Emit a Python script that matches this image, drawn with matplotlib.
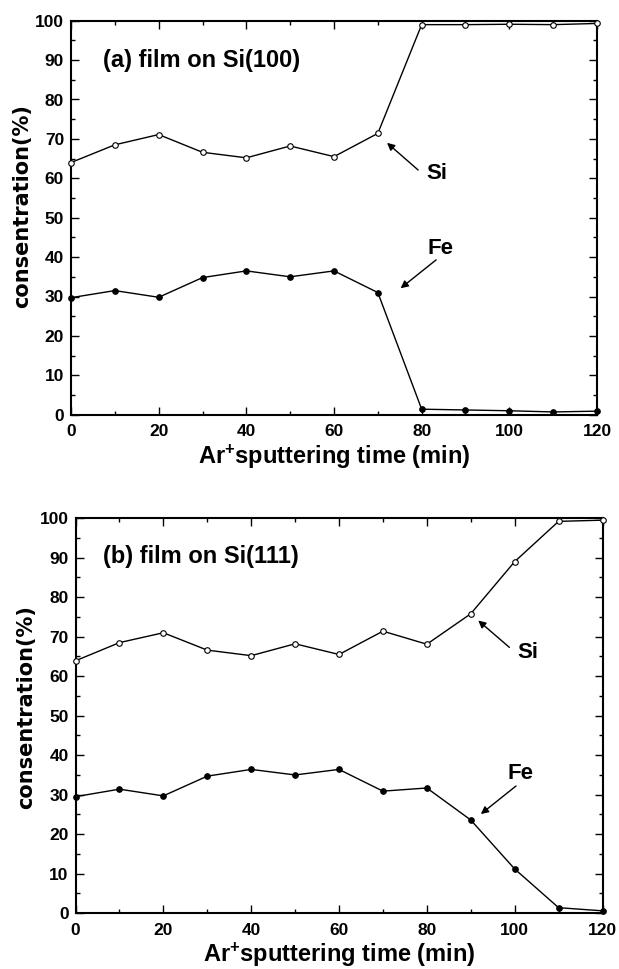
import matplotlib
matplotlib.use("Agg")
import matplotlib.pyplot as plt
from matplotlib.ticker import MultipleLocator

plt.rcParams['font.family'] = ['Liberation Sans', 'DejaVu Sans']
plt.rcParams['font.weight'] = 'bold'
plt.rcParams['mathtext.fontset'] = 'custom'
plt.rcParams['mathtext.rm'] = 'Liberation Sans:bold'
plt.rcParams['mathtext.bf'] = 'Liberation Sans:bold'
plt.rcParams['mathtext.it'] = 'Liberation Sans:bold'

# ---- data ----
time = [0, 10, 20, 30, 40, 50, 60, 70, 80, 90, 100, 110, 120]
si_a = [64.0, 68.5, 71.1, 66.6, 65.2, 68.2, 65.5, 71.4, 99.0, 99.0, 99.1, 99.0, 99.3]
fe_a = [29.7, 31.5, 29.8, 34.8, 36.5, 35.0, 36.5, 31.0, 1.4, 1.2, 1.0, 0.7, 0.9]
si_b = [63.9, 68.5, 71.0, 66.6, 65.2, 68.2, 65.5, 71.4, 68.1, 75.8, 89.0, 99.2, 99.5]
fe_b = [29.5, 31.4, 29.7, 34.7, 36.4, 35.0, 36.4, 30.9, 31.7, 23.6, 11.2, 1.4, 0.6]

panel_titles = ["(a) film on Si(100)", "(b) film on Si(111)"]
xlabel = r"Ar$^{\mathbf{+}}$sputtering time (min)"
ylabel = "consentration(%)"

W, H = 619, 969
fig = plt.figure(figsize=(W / 100, H / 100), dpi=100)

ax_a = fig.add_axes([71 / W, 1 - 414.7 / H, 526 / W, 394 / H])
ax_b = fig.add_axes([75.5 / W, 1 - 913.2 / H, 527 / W, 395 / H])


def style(ax, ylab_y):
    ax.set_xlim(0, 120)
    ax.set_ylim(0, 100)
    ax.xaxis.set_major_locator(MultipleLocator(20))
    ax.xaxis.set_minor_locator(MultipleLocator(10))
    ax.yaxis.set_major_locator(MultipleLocator(10))
    ax.yaxis.set_minor_locator(MultipleLocator(5))
    ax.tick_params(which='both', direction='in', top=True, right=True,
                   width=1.0, color='black')
    ax.tick_params(which='major', length=6)
    ax.tick_params(which='minor', length=3)
    ax.tick_params(axis='x', which='major', pad=7, labelsize=12.5)
    ax.tick_params(axis='y', which='major', pad=5, labelsize=12.5)
    for lab in ax.get_xticklabels() + ax.get_yticklabels():
        lab.set_fontweight('bold')
    for sp in ax.spines.values():
        sp.set_linewidth(1.5)
    ax.set_xlabel(xlabel, fontsize=17, fontweight='bold', labelpad=2)
    ax.set_ylabel(ylabel, fontsize=15, fontweight='bold',
                  family=['DejaVu Sans'])
    ax.yaxis.set_label_coords(-0.074, ylab_y)


def plot_series(ax, si, fe):
    ax.plot(time, si, '-', color='black', lw=1.0, marker='o', ms=4,
            mfc='white', mec='black', mew=0.8, clip_on=False, zorder=3)
    ax.plot(time, fe, '-', color='black', lw=1.0, marker='o', ms=4,
            mfc='black', mec='black', mew=0.8, clip_on=False, zorder=3)


def arrow(ax, head, tail):
    ax.annotate('', xy=head, xytext=tail,
                arrowprops=dict(arrowstyle='-|>', color='black', lw=1.0,
                                mutation_scale=11, shrinkA=0, shrinkB=0))


# panel (a)
plot_series(ax_a, si_a, fe_a)
style(ax_a, 0.53)
ax_a.text(7.3, 89.8, panel_titles[0], fontsize=17, fontweight='bold',
          ha='left', va='center')
arrow(ax_a, (72.1, 69.0), (79.2, 62.1))
ax_a.text(83.5, 61.1, "Si", fontsize=16, fontweight='bold', ha='center', va='center')
arrow(ax_a, (75.2, 32.1), (83.3, 39.3))
ax_a.text(84.4, 42.3, "Fe", fontsize=16, fontweight='bold', ha='center', va='center')

# panel (b)
plot_series(ax_b, si_b, fe_b)
style(ax_b, 0.523)
ax_b.text(6.35, 90.3, panel_titles[1], fontsize=17, fontweight='bold',
          ha='left', va='center')
arrow(ax_b, (91.7, 74.1), (98.8, 67.3))
ax_b.text(103.0, 66.0, "Si", fontsize=16, fontweight='bold', ha='center', va='center')
arrow(ax_b, (92.3, 25.1), (100.3, 32.2))
ax_b.text(101.4, 35.4, "Fe", fontsize=16, fontweight='bold', ha='center', va='center')

fig.savefig("out.png", dpi=100)
